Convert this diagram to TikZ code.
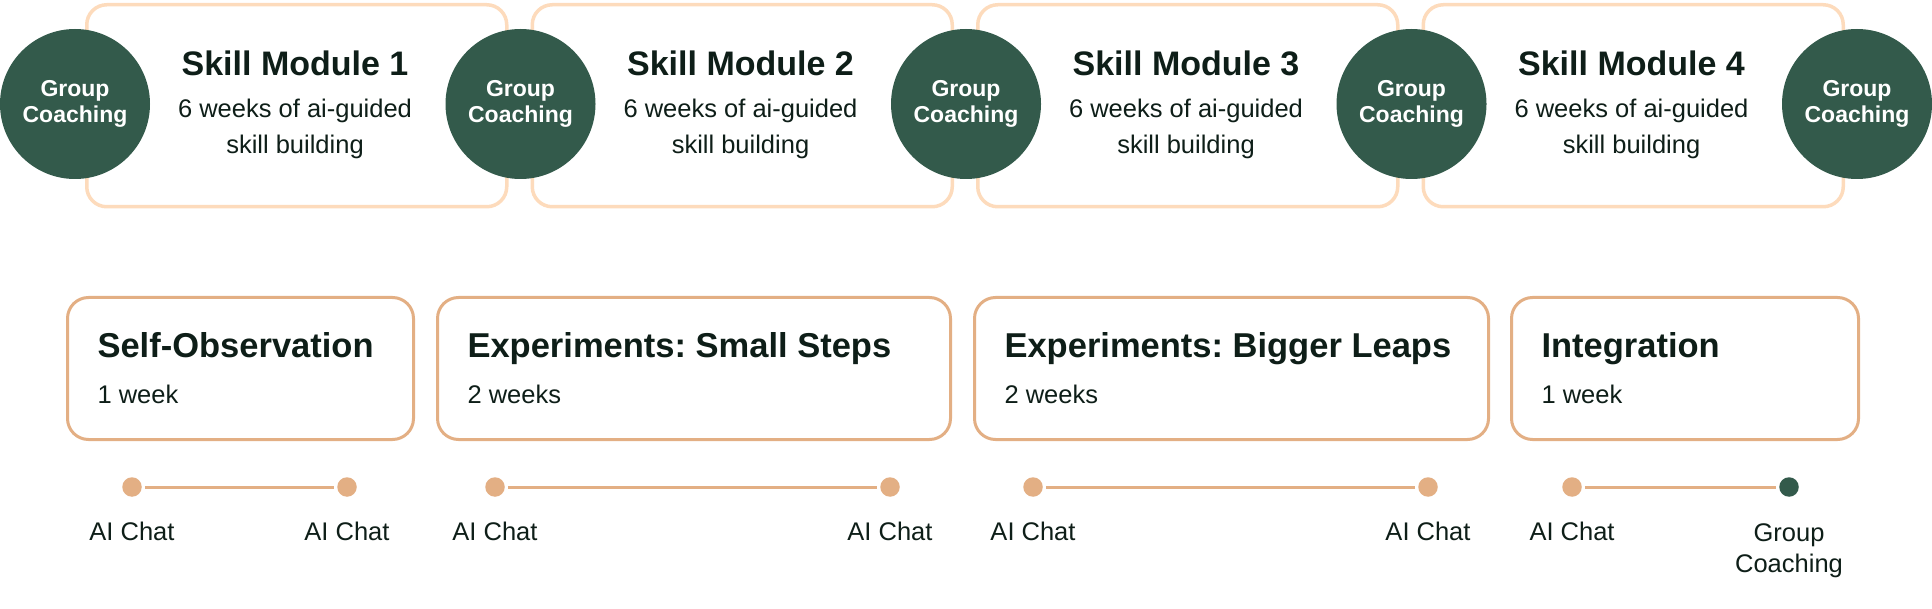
\documentclass[tikz,border=0pt]{standalone}
\usepackage{fontspec}
\setmainfont{Liberation Sans}
\frenchspacing
\definecolor{cgreen}{HTML}{335A4B}
\definecolor{cpeach}{HTML}{FDDBBC}
\definecolor{ctan}{HTML}{E3AF84}
\definecolor{ctext}{HTML}{0E1E18}
\tikzset{
  modbox/.style={draw=cpeach, line width=3.5pt, rounded corners=20pt, fill=white},
  coach/.style={circle, fill=cgreen, draw=none, minimum size=150pt, inner sep=0pt, text=white, font=\fontsize{23}{27}\selectfont\bfseries, align=center},
  modtitle/.style={text=ctext, font=\fontsize{34}{40}\selectfont\bfseries, anchor=base},
  modsub/.style={text=ctext, font=\fontsize{25.5}{36}\selectfont, anchor=base},
  phasebox/.style={draw=ctan, line width=3pt, rounded corners=21pt, fill=white},
  phtitle/.style={text=ctext, font=\fontsize{34.5}{40}\selectfont\bfseries, anchor=base west},
  phsub/.style={text=ctext, font=\fontsize{25.5}{30}\selectfont, anchor=base west},
  dot/.style={circle, fill=ctan, draw=none, minimum size=19.5pt, inner sep=0pt},
  gdot/.style={circle, fill=cgreen, draw=none, minimum size=19.5pt, inner sep=0pt},
  tl/.style={draw=ctan, line width=3pt, shorten <=3pt, shorten >=3pt},
  dlabel/.style={text=ctext, font=\fontsize{25.5}{31}\selectfont, anchor=base, align=center},
}
\begin{document}
\begin{tikzpicture}[x=1pt,y=-1pt]
\useasboundingbox (0,0) rectangle (1932,609);
% top module boxes
\foreach \k/\n in {0/1,1/2,2/3,3/4}{
  \pgfmathsetmacro{\L}{85+445.5*\k}
  \pgfmathsetmacro{\C}{\L+210}
  \node[modbox, minimum width=420pt, minimum height=202pt, anchor=north west] (mod\n) at (\L,3) {};
  \node[modtitle] (modt\n) at (\C,76) {Skill Module \n};
  \node[modsub] (mods\n) at (\C,118) {6 weeks of ai-guided};
  \node[modsub] (modu\n) at (\C,154) {skill building};
}
% coaching circles
\foreach \k in {0,...,4}{
  \pgfmathsetmacro{\X}{75+445.5*\k}
  \node[coach] (gc\k) at (\X,104) {Group\\[-1pt]Coaching};
}
% bottom phase boxes
\node[phasebox, minimum width=346pt, minimum height=142pt, anchor=north west] (pA) at (66,296) {};
\node[phasebox, minimum width=513pt, minimum height=142pt, anchor=north west] (pB) at (436,296) {};
\node[phasebox, minimum width=514pt, minimum height=142pt, anchor=north west] (pC) at (973,296) {};
\node[phasebox, minimum width=347pt, minimum height=142pt, anchor=north west] (pD) at (1510,296) {};
\node[phtitle] (tA) at (94,357) {Self-Observation};
\node[phsub] (sA) at (94,403) {1 week};
\node[phtitle] (tB) at (464,357) {Experiments: Small Steps};
\node[phsub] (sB) at (464,403) {2 weeks};
\node[phtitle] (tC) at (1001,357) {Experiments: Bigger Leaps};
\node[phsub] (sC) at (1001,403) {2 weeks};
\node[phtitle] (tD) at (1538,357) {Integration};
\node[phsub] (sD) at (1538,403) {1 week};
% timelines
\node[dot] (d1) at (132,487) {};
\node[dot] (d2) at (347,487) {};
\node[dot] (d3) at (495,487) {};
\node[dot] (d4) at (890,487) {};
\node[dot] (d5) at (1033,487) {};
\node[dot] (d6) at (1428,487) {};
\node[dot] (d7) at (1572,487) {};
\node[gdot] (d8) at (1789,487) {};
\draw[tl] (d1) -- (d2);
\draw[tl] (d3) -- (d4);
\draw[tl] (d5) -- (d6);
\draw[tl] (d7) -- (d8);
\node[dlabel] (l1) at (132,540) {AI Chat};
\node[dlabel] (l2) at (347,540) {AI Chat};
\node[dlabel] (l3) at (495,540) {AI Chat};
\node[dlabel] (l4) at (890,540) {AI Chat};
\node[dlabel] (l5) at (1033,540) {AI Chat};
\node[dlabel] (l6) at (1428,540) {AI Chat};
\node[dlabel] (l7) at (1572,540) {AI Chat};
\node[dlabel] (l8) at (1789,541) {Group};
\node[dlabel] (l9) at (1789,572) {Coaching};
\end{tikzpicture}
\end{document}
